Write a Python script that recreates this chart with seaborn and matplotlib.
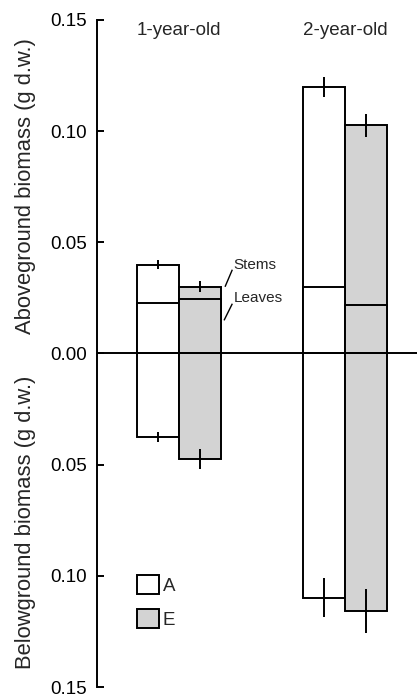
import numpy as np
import pandas as pd
import matplotlib
matplotlib.use("Agg")
import matplotlib.pyplot as plt
from matplotlib.patches import Patch
import seaborn as sns

# Biomass per plant (g dry weight), mean and error
ages = ["1-year-old", "2-year-old"]
treatments = ["A", "E"]
leaves_A = [0.0227, 0.0300]
leaves_E = [0.0246, 0.0219]
stems_A = [0.0173, 0.0900]
stems_E = [0.0054, 0.0808]
above_err_A = [0.0022, 0.0045]
above_err_E = [0.0025, 0.0052]
roots_A = [0.0377, 0.1098]
roots_E = [0.0473, 0.1158]
root_err_A = [0.0022, 0.0088]
root_err_E = [0.0045, 0.0100]
ytick_vals = [-0.15, -0.10, -0.05, 0.0, 0.05, 0.10, 0.15]

rows = []
for t, lv, st, ea, rt, er in [
    ("A", leaves_A, stems_A, above_err_A, roots_A, root_err_A),
    ("E", leaves_E, stems_E, above_err_E, roots_E, root_err_E),
]:
    for i, age in enumerate(ages):
        rows.append(dict(age=age, treatment=t, leaves=lv[i],
                         total=lv[i] + st[i], above_err=ea[i],
                         roots=-rt[i], root_err=er[i]))
df = pd.DataFrame(rows)

sns.set_style("ticks")
plt.rcParams["font.family"] = ["Liberation Sans", "DejaVu Sans"]
plt.rcParams["font.size"] = 13.5

fig = plt.figure(figsize=(4.17, 6.96), dpi=100)
ax = fig.add_axes([97 / 417, 1 - 687 / 696, 1 - 97 / 417, (687 - 20) / 696])

palette = {"A": "white", "E": "#d3d3d3"}
lw = 1.4
common = dict(x="age", hue="treatment", order=ages, hue_order=treatments,
              palette=palette, edgecolor="black", linewidth=lw,
              width=0.506, gap=0, errorbar=None, legend=False,
              saturation=1, ax=ax)

n0 = len(ax.patches)
sns.barplot(data=df, y="total", **common)
top_bars = ax.patches[n0:]
sns.barplot(data=df, y="leaves", **common)
n1 = len(ax.patches)
sns.barplot(data=df, y="roots", **common)
root_bars = ax.patches[n1:]

# error bars at the top (aboveground) and bottom (belowground) of each bar
def bar_centers(bars):
    return [b.get_x() + b.get_width() / 2 for b in bars]

order_df = df.set_index(["treatment", "age"]).loc[
    [(t, a) for t in treatments for a in ages]]
ax.errorbar(bar_centers(top_bars), order_df["total"], yerr=order_df["above_err"],
            fmt="none", ecolor="black", elinewidth=lw, capsize=0, zorder=5)
ax.errorbar(bar_centers(root_bars), order_df["roots"], yerr=order_df["root_err"],
            fmt="none", ecolor="black", elinewidth=lw, capsize=0, zorder=5)

ax.axhline(0, color="black", lw=lw, zorder=6)

ax.set_xlim(-0.497, 1.435)
ax.set_ylim(-0.15, 0.15)
ax.set_yticks(ytick_vals)
ax.set_yticklabels([f"{abs(v):.2f}" for v in ytick_vals])
ax.tick_params(axis="y", direction="in", length=5, width=lw, pad=7,
               labelsize=13.5, colors="black")
ax.set_xticks([])
ax.set_xlabel("")
ax.set_ylabel("")
for s in ["top", "right", "bottom"]:
    ax.spines[s].set_visible(False)
ax.spines["left"].set_linewidth(lw)
ax.spines["left"].set_color("black")

# age group titles
for i, age in enumerate(ages):
    ax.text(i, 0.1432, age, ha="center", va="baseline", fontsize=13.5)

# component labels with leader lines
ax.plot([0.276, 0.320], [0.030, 0.0377], color="black", lw=1.0,
        solid_capstyle="butt", zorder=7)
ax.text(0.3277, 0.0396, "Stems", ha="left", va="center", fontsize=11)
ax.plot([0.270, 0.320], [0.0149, 0.0224], color="black", lw=1.0,
        solid_capstyle="butt", zorder=7)
ax.text(0.3277, 0.0249, "Leaves", ha="left", va="center", fontsize=11)

fig.text(26 / 417, 1 - 186 / 696, "Aboveground biomass (g d.w.)",
         rotation=90, ha="center", va="center", fontsize=15.8)
fig.text(26 / 417, 1 - 522 / 696, "Belowground biomass (g d.w.)",
         rotation=90, ha="center", va="center", fontsize=15.8)

handles = [Patch(facecolor=palette[t], edgecolor="black", linewidth=lw)
           for t in treatments]
ax.legend(handles, treatments, loc="upper left",
          bbox_to_anchor=(137 / 417, 1 - 575 / 696),
          bbox_transform=fig.transFigure, frameon=False, borderpad=0,
          borderaxespad=0, handlelength=1.17, handleheight=1.17,
          handletextpad=0.2, labelspacing=0.78, fontsize=13.5)

fig.savefig("out.png", dpi=100)
